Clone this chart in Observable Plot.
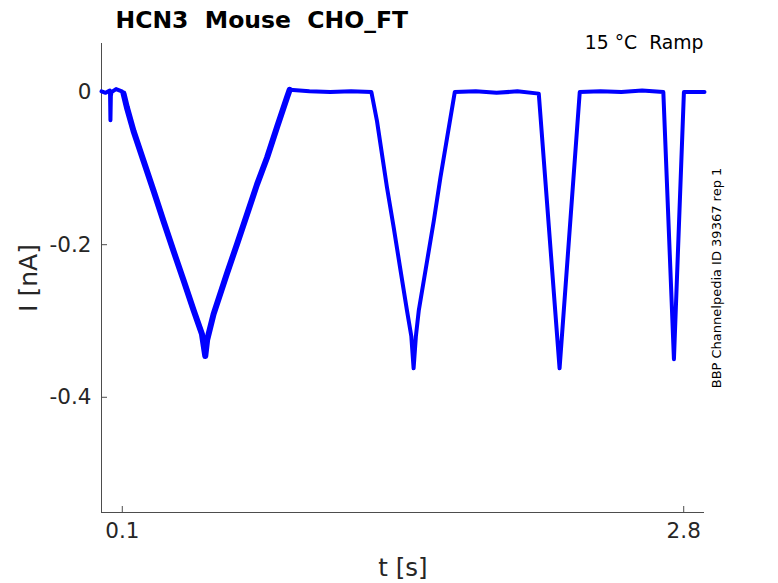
<!DOCTYPE html>
<html>
<head>
<meta charset="utf-8">
<script src="https://cdn.jsdelivr.net/npm/d3@7"></script>
<script src="https://cdn.jsdelivr.net/npm/@observablehq/plot@0.6"></script>
<style>
  html, body { margin: 0; padding: 0; background: #fff; }
  #chart svg { display: block; }
</style>
</head>
<body>
<div id="chart"></div>
<script>
// ---- data ----
const title = "HCN3  Mouse  CHO_FT";
const cornerNote = "15 °C  Ramp";
const sideNote = "BBP Channelpedia ID 39367 rep 1";
const xLabel = "t [s]";
const yLabel = "I [nA]";

const xTicks = [0.1, 2.8];
const xTickLabels = ["0.1", "2.8"];
const yTicks = [0, -0.2, -0.4];
const yTickLabels = ["0", "-0.2", "-0.4"];

const xDomain = [0, 2.9];
const yDomain = [-0.551, 0.0637];

// time (s)
const timeS = [
  0.000, 0.020, 0.040, 0.041, 0.043, 0.045, 0.048, 0.070, 0.098, 0.106,
  0.122, 0.154, 0.202, 0.250, 0.298, 0.346, 0.395, 0.443, 0.483, 0.499,
  0.508, 0.539, 0.603, 0.652, 0.700, 0.748, 0.796, 0.844, 0.892, 0.905,
  1.000, 1.100, 1.200, 1.298,
  1.325, 1.373, 1.405, 1.436, 1.469, 1.490, 1.501, 1.512, 1.526, 1.566,
  1.598, 1.630, 1.662, 1.699,
  1.800, 1.900, 2.000, 2.103,
  2.203, 2.300,
  2.400, 2.500, 2.600, 2.702,
  2.753, 2.801,
  2.850, 2.900
];
// current (nA)
const currentNA = [
  0.001, -0.001, 0.002, 0.000, -0.037, -0.005, 0.000, 0.004, 0.001, -0.002,
  -0.020, -0.051, -0.090, -0.129, -0.169, -0.208, -0.247, -0.286, -0.317, -0.346,
  -0.325, -0.291, -0.238, -0.199, -0.160, -0.121, -0.086, -0.046, -0.007, 0.003,
  0.001, 0.000, 0.001, 0.000,
  -0.038, -0.125, -0.177, -0.230, -0.286, -0.320, -0.362, -0.320, -0.286, -0.221,
  -0.169, -0.112, -0.060, 0.000,
  0.001, -0.001, 0.001, -0.002,
  -0.362, 0.000,
  0.001, 0.000, 0.002, 0.000,
  -0.350, 0.000,
  0.000, 0.000
];

const trace = timeS.map((t, i) => ({t, I: currentNA[i]}));

// ---- layout ----
const W = 778, H = 583;
const mL = 101, mR = 74, mT = 43, mB = 71;
const innerW = W - mL - mR, innerH = H - mT - mB;
const axisColor = "#4d4d4d";
const textColor = "#262626";
const font = "DejaVu Sans, Verdana, sans-serif";

const chart = Plot.plot({
  width: W,
  height: H,
  marginLeft: mL,
  marginRight: mR,
  marginTop: mT,
  marginBottom: mB,
  style: {fontFamily: font, background: "#fff", overflow: "visible"},
  x: {domain: xDomain},
  y: {domain: yDomain},
  marks: [
    // axis lines (left & bottom only)
    Plot.ruleX([xDomain[0]], {stroke: axisColor, strokeWidth: 1}),
    Plot.ruleY([yDomain[0]], {stroke: axisColor, strokeWidth: 1}),
    // inward ticks
    Plot.tickX(xTicks, {x: d => d, stroke: axisColor, insetTop: innerH - 6}),
    Plot.tickY(yTicks, {y: d => d, stroke: axisColor, insetRight: innerW - 6}),
    // tick labels
    Plot.axisX({ticks: xTicks, tickFormat: (d) => xTickLabels[xTicks.indexOf(d)], tickSize: 0, tickPadding: 10, fontSize: 21.5, color: textColor, label: null}),
    Plot.axisY({ticks: yTicks, tickFormat: (d) => yTickLabels[yTicks.indexOf(d)], tickSize: 0, tickPadding: 10, fontSize: 21.5, color: textColor, label: null}),
    // trace
    Plot.line(trace, {x: "t", y: "I", stroke: "#0000ff", strokeWidth: 4, strokeLinejoin: "round", curve: "linear"}),
    Plot.line(trace, {filter: d => d.t >= 0.1 && d.t <= 0.91, x: "t", y: "I", stroke: "#0000ff", strokeWidth: 6, strokeLinejoin: "round"}),
    // title
    Plot.text([title], {frameAnchor: "top-left", dx: 14, dy: -16, textAnchor: "start", lineAnchor: "bottom", fontSize: 23.5, fontWeight: "bold", fill: "#000"}),
    // corner note
    Plot.text([cornerNote], {frameAnchor: "top-right", dx: -1, dy: 5, textAnchor: "end", lineAnchor: "bottom", fontSize: 18.8, fill: "#000"}),
    // side note (rotated)
    Plot.text([sideNote], {frameAnchor: "right", dx: 16, dy: 0, rotate: -90, textAnchor: "middle", lineAnchor: "bottom", fontSize: 13, fill: "#000"}),
    // axis labels
    Plot.text([xLabel], {frameAnchor: "bottom", dy: 63, lineAnchor: "bottom", textAnchor: "middle", fontSize: 24.5, fill: textColor}),
    Plot.text([yLabel], {frameAnchor: "left", dx: -65, dy: 0, rotate: -90, textAnchor: "middle", lineAnchor: "bottom", fontSize: 25, fill: textColor})
  ]
});

document.getElementById("chart").appendChild(chart);
</script>
</body>
</html>
